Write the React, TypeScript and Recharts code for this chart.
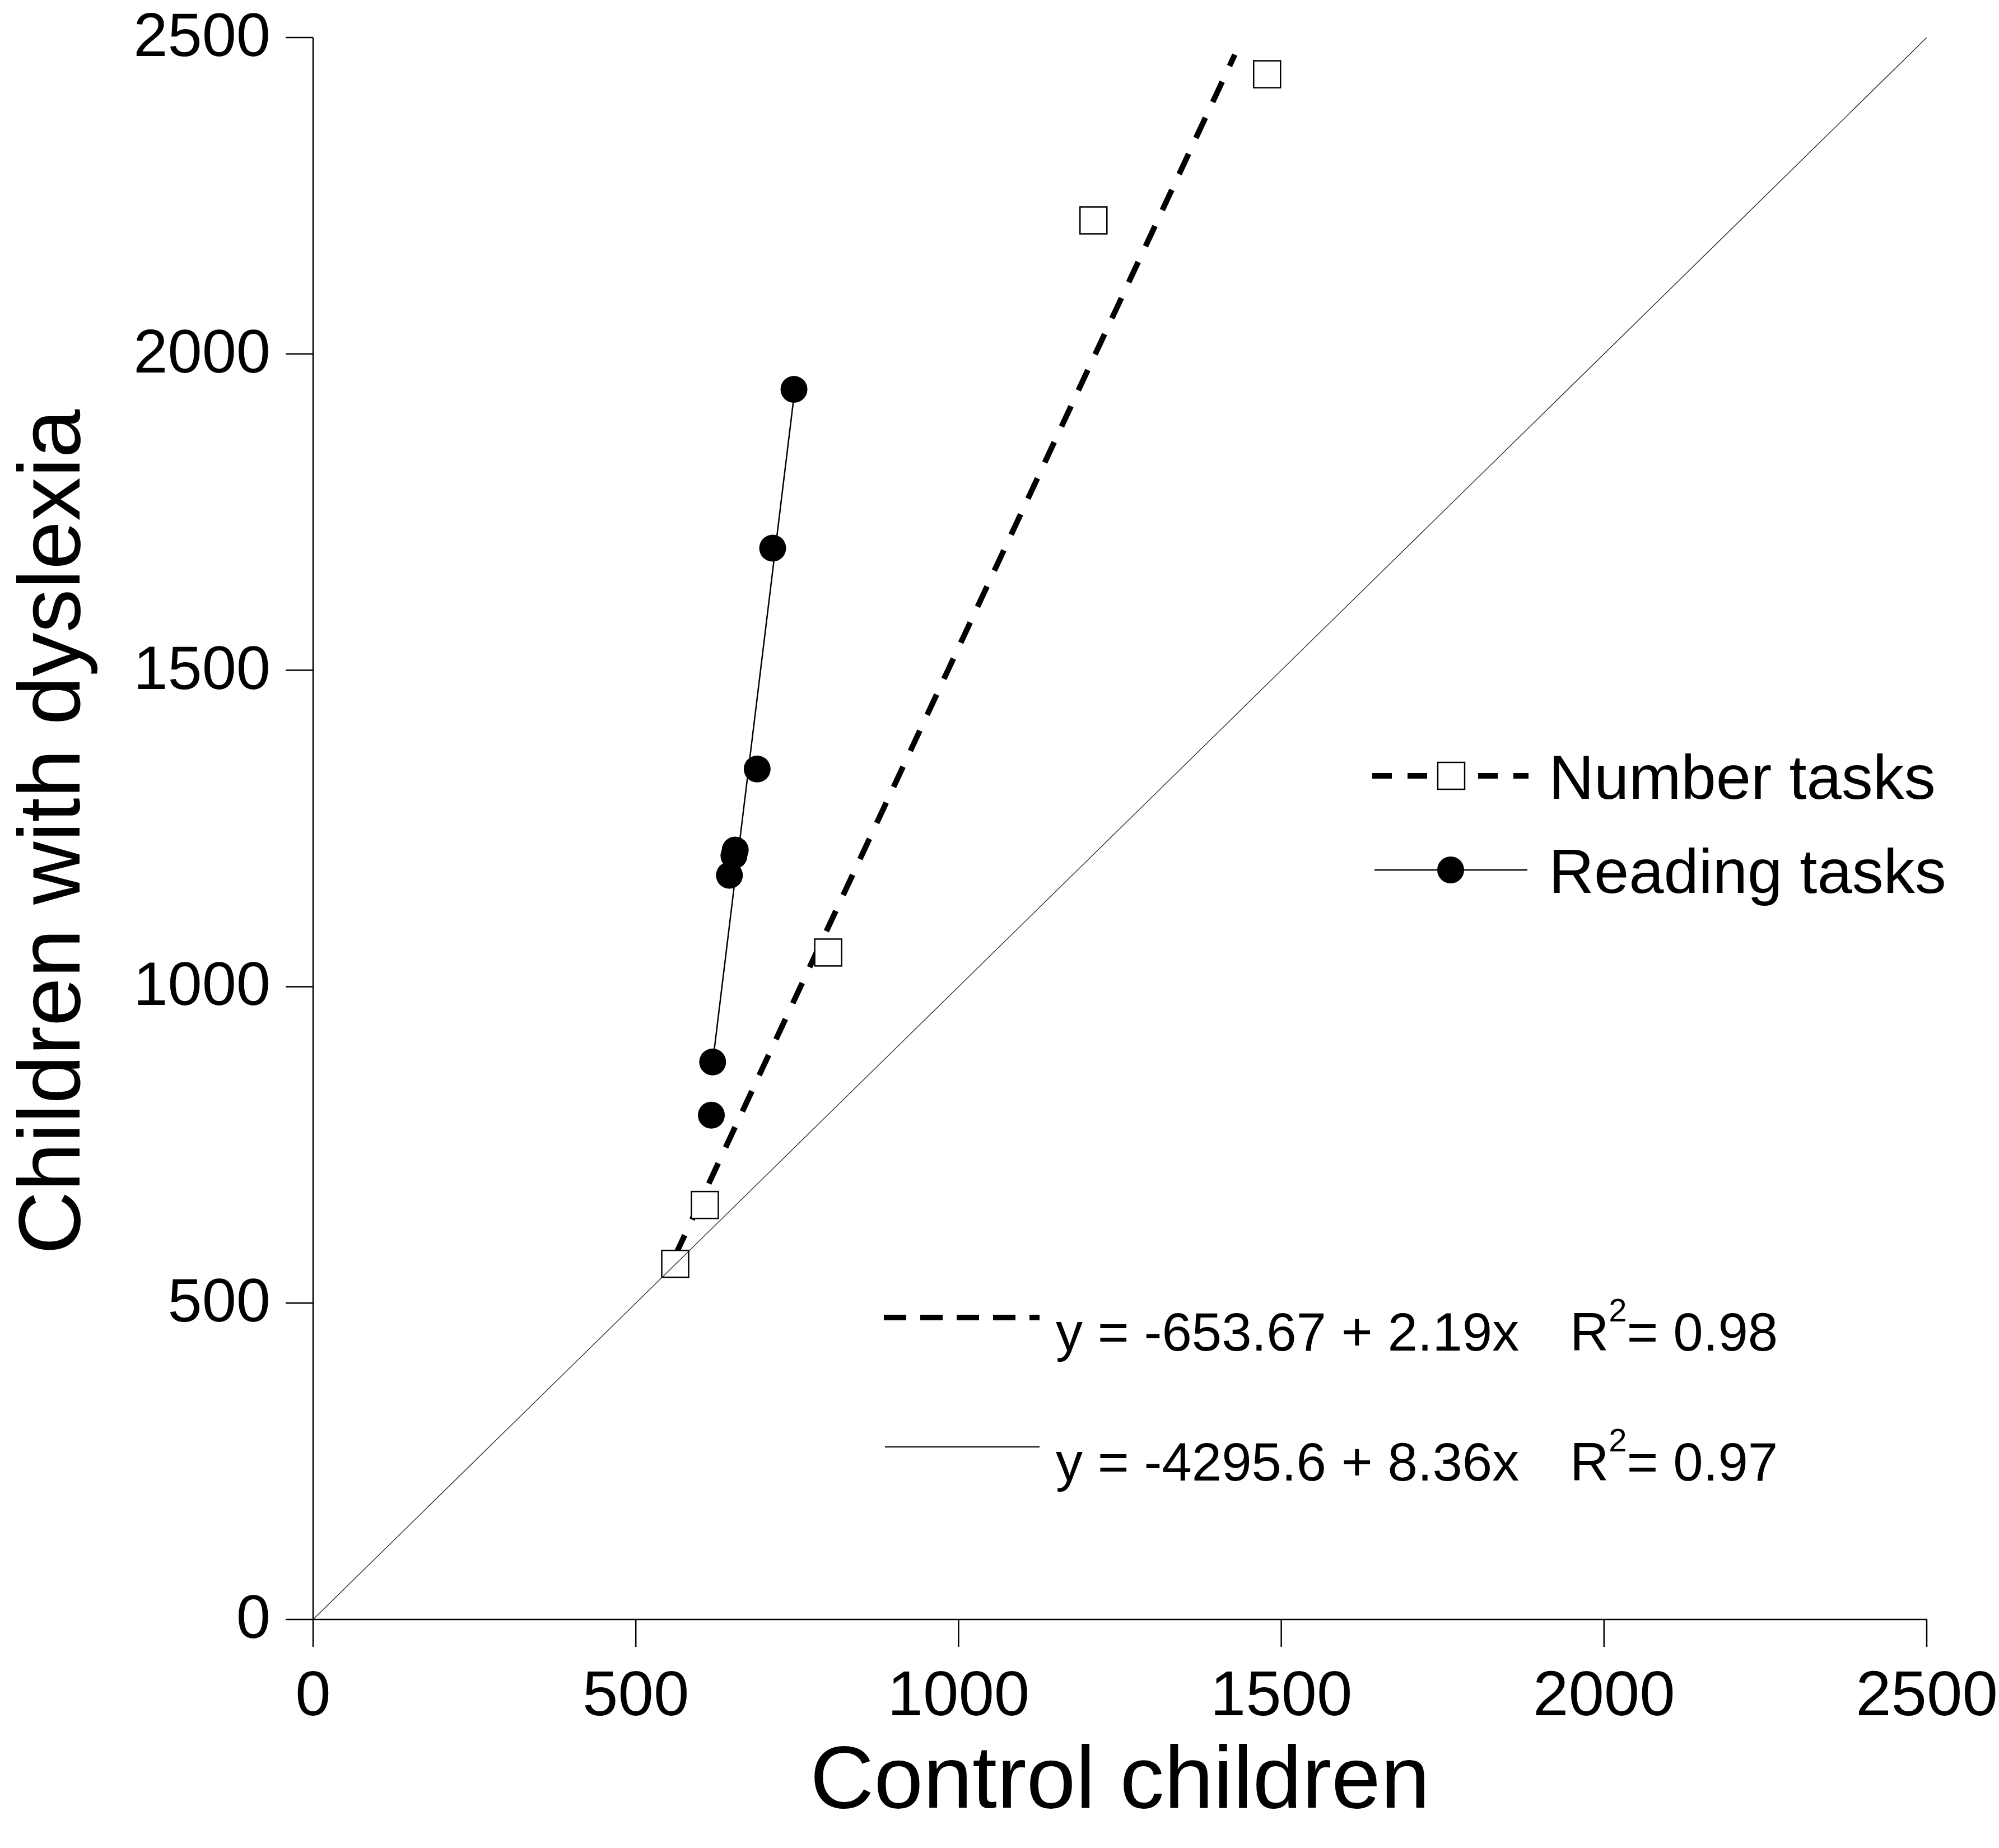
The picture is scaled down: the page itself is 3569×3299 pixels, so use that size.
import { ScatterChart, Scatter, XAxis, YAxis, Legend } from "recharts";

const FONT = '"Liberation Sans", Arial, Helvetica, sans-serif';

const W = 3569;
const H = 3299;
const MARGIN = { top: 67, right: 129, bottom: 8, left: 159 };
const Y_AXIS_W = 400;
const X_AXIS_H = 400;
const PLOT_TOP = MARGIN.top;
const PLOT_BOTTOM = H - MARGIN.bottom - X_AXIS_H;

const axisTicks = [0, 500, 1000, 1500, 2000, 2500];

// number tasks (open squares)
const numberControl = [561, 607, 798, 1209, 1478];
const numberDyslexia = [562, 655, 1054, 2211, 2442];

// reading tasks (filled circles)
const readingControl = [617, 619, 645, 652, 654, 688, 712, 745];
const readingDyslexia = [797, 881, 1176, 1207, 1216, 1344, 1693, 1944];

// fitted lines, end points
const numberFitX = [561, 1428];
const numberFitY = [575, 2473];
const readingFitX = [618, 745];
const readingFitY = [871, 1933];
const identityX = [0, 2500];
const identityY = [0, 2500];

const toPoints = (xs: number[], ys: number[]) =>
  xs.map((x, i) => ({ x, y: ys[i] }));

const Square = (props: any) => (
  <rect
    x={props.cx - 24}
    y={props.cy - 24}
    width={48}
    height={48}
    fill="#fff"
    stroke="#000"
    strokeWidth={2.5}
  />
);

const Dot = (props: any) => (
  <circle cx={props.cx} cy={props.cy} r={24} fill="#000" />
);

const NoPoint = () => <g />;

const XTick = (props: any) => (
  <text
    x={props.x}
    y={props.y}
    dy={122}
    textAnchor="middle"
    fontSize={114}
    fontFamily={FONT}
    fill="#000"
  >
    {props.payload.value}
  </text>
);

const YTick = (props: any) => (
  <text
    x={props.x}
    y={props.y}
    dx={-27}
    dy={33}
    textAnchor="end"
    fontSize={110}
    fontFamily={FONT}
    fill="#000"
  >
    {props.payload.value}
  </text>
);

const LegendBox = (props: any) => {
  const items = (props.payload || []).filter((p: any) => p.type !== "none");
  return (
    <svg width={1169} height={350} style={{ overflow: "visible" }}>
      {items.map((entry: any, i: number) => {
        const cy = 85 + i * 168;
        const isNumber = entry.value === "Number tasks";
        return (
          <g key={entry.value}>
            {isNumber ? (
              <>
                <line
                  x1={50}
                  y1={cy}
                  x2={329}
                  y2={cy}
                  stroke="#000"
                  strokeWidth={10}
                  strokeDasharray="35 28"
                />
                <rect
                  x={167}
                  y={cy - 24}
                  width={48}
                  height={48}
                  fill="#fff"
                  stroke="#000"
                  strokeWidth={2.5}
                />
              </>
            ) : (
              <>
                <line
                  x1={54}
                  y1={cy}
                  x2={327}
                  y2={cy}
                  stroke="#000"
                  strokeWidth={2.5}
                />
                <circle cx={190} cy={cy} r={24} fill="#000" />
              </>
            )}
            <text
              x={365}
              y={cy + 41}
              fontSize={112}
              fontFamily={FONT}
              fill="#000"
            >
              {entry.value}
            </text>
          </g>
        );
      })}
    </svg>
  );
};

const FitNotes = () => (
  <g fontFamily={FONT} fill="#000">
    <line
      x1={1578}
      y1={2352}
      x2={1856}
      y2={2352}
      stroke="#000"
      strokeWidth={10}
      strokeDasharray="40 25"
    />
    <text x={1885} y={2411} fontSize={96}>
      y = -653.67 + 2.19x
    </text>
    <text x={2803} y={2411} fontSize={96}>
      R
      <tspan fontSize={58} dy={-52}>
        2
      </tspan>
      <tspan dy={52}>= 0.98</tspan>
    </text>
    <line
      x1={1580}
      y1={2583}
      x2={1856}
      y2={2583}
      stroke="#000"
      strokeWidth={2}
    />
    <text x={1885} y={2643} fontSize={96}>
      y = -4295.6 + 8.36x
    </text>
    <text x={2803} y={2643} fontSize={96}>
      R
      <tspan fontSize={58} dy={-52}>
        2
      </tspan>
      <tspan dy={52}>= 0.97</tspan>
    </text>
  </g>
);

export default function App() {
  return (
    <div
      style={{
        position: "absolute",
        left: 0,
        top: 0,
        width: W,
        height: H,
        background: "#fff",
      }}
    >
      <ScatterChart width={W} height={H} margin={MARGIN}>
        <XAxis
          type="number"
          dataKey="x"
          domain={[0, 2500]}
          ticks={axisTicks}
          interval={0}
          allowDataOverflow
          height={X_AXIS_H}
          tickSize={49}
          tickMargin={0}
          axisLine={{ stroke: "#000", strokeWidth: 2.5 }}
          tickLine={{ stroke: "#000", strokeWidth: 2.5 }}
          tick={<XTick />}
          label={{
            value: "Control children",
            position: "insideBottom",
            offset: 64,
            fontSize: 158,
            fontFamily: FONT,
            fill: "#000",
          }}
        />
        <YAxis
          type="number"
          dataKey="y"
          domain={[0, 2500]}
          ticks={axisTicks}
          interval={0}
          allowDataOverflow
          width={Y_AXIS_W}
          tickSize={49}
          tickMargin={0}
          axisLine={{ stroke: "#000", strokeWidth: 2.5 }}
          tickLine={{ stroke: "#000", strokeWidth: 2.5 }}
          tick={<YTick />}
          label={{
            content: () => (
              <text
                transform={`translate(142, ${(PLOT_TOP + PLOT_BOTTOM) / 2 + 6}) rotate(-90)`}
                textAnchor="middle"
                fontSize={156}
                fontFamily={FONT}
                fill="#000"
              >
                Children with dyslexia
              </text>
            ),
          }}
        />
        <Legend
          layout="vertical"
          align="center"
          verticalAlign="middle"
          wrapperStyle={{ left: 2400, top: 1300, width: 1169, height: 350 }}
          content={LegendBox}
        />
        <Scatter
          name="number fit"
          data={toPoints(numberFitX, numberFitY)}
          line={{ stroke: "#000", strokeWidth: 10, strokeDasharray: "40 31" }}
          shape={<NoPoint />}
          legendType="none"
          isAnimationActive={false}
        />
        <Scatter
          name="Number tasks"
          data={toPoints(numberControl, numberDyslexia)}
          shape={<Square />}
          fill="#fff"
          isAnimationActive={false}
        />
        <Scatter
          name="reading fit"
          data={toPoints(readingFitX, readingFitY)}
          line={{ stroke: "#000", strokeWidth: 2.5 }}
          shape={<NoPoint />}
          legendType="none"
          isAnimationActive={false}
        />
        <Scatter
          name="Reading tasks"
          data={toPoints(readingControl, readingDyslexia)}
          shape={<Dot />}
          fill="#000"
          isAnimationActive={false}
        />
        <Scatter
          name="identity"
          data={toPoints(identityX, identityY)}
          line={{ stroke: "#222", strokeWidth: 1.3 }}
          shape={<NoPoint />}
          legendType="none"
          isAnimationActive={false}
        />
        <FitNotes />
      </ScatterChart>
    </div>
  );
}
